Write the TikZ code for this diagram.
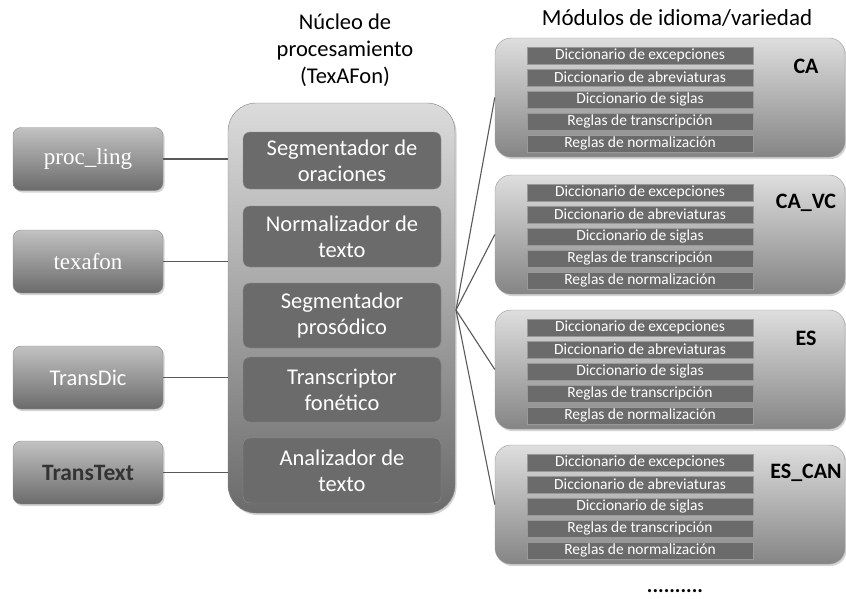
\documentclass[tikz,border=0pt]{standalone}
\usepackage{fontspec}
\setmainfont{Carlito}
\newfontfamily\cambriaish{Liberation Serif}
\usetikzlibrary{positioning, shadows}

\begin{document}
\begin{tikzpicture}[x=1pt, y=-1pt,
                    every node/.style={align=center, inner sep=0pt},
                    softshadow/.style={drop shadow={opacity=0.35, shadow xshift=1.5pt, shadow yshift=-2pt}},
                    toolbox/.style={draw=black!45, rounded corners=8pt, top color=black!24, bottom color=black!58,
                                    minimum width=150pt, minimum height=63pt, text=white, softshadow},
                    corebg/.style={draw=black!50, rounded corners=28pt, top color=black!14, bottom color=black!58,
                                   minimum width=227pt, minimum height=410pt, softshadow},
                    corebox/.style={draw=black!45, rounded corners=7pt, fill=black!58, minimum width=198pt,
                                    text=white, font=\fontsize{22.5}{26}\selectfont},
                    modbox/.style={draw=black!40, rounded corners=16pt, top color=black!13, bottom color=black!48,
                                   minimum width=350pt, minimum height=119pt, softshadow},
                    modbar/.style={draw=black!40, fill=black!58, minimum width=226pt, minimum height=17pt,
                                   text=white, font=\fontsize{15.5}{16}\selectfont},
                    modlabel/.style={font=\fontsize{22}{24}\selectfont\bfseries, text=black},
                    heading/.style={font=\fontsize{22.5}{27}\selectfont, text=black},
                    link/.style={draw=black!65, line width=1.1pt}]
    \useasboundingbox (0,0) rectangle (846,598);

    % Titles
    \node[heading] (coretitle) at (345,50) {Núcleo de\\procesamiento\\(TexAFon)};
    \node[heading, font=\fontsize{23}{27}\selectfont] (modtitle) at (677,18) {Módulos de idioma/variedad};

    % Processing core
    \node[corebg] (core) at (341.5,308) {};
    \node[corebox, minimum height=57pt] (segora) at (342,160.5) {Segmentador de\\oraciones};
    \node[corebox, minimum height=61pt] (normtxt) at (342,236.5) {Normalizador de\\texto};
    \node[corebox, minimum height=65pt] (segpros) at (342,315.5) {Segmentador\\prosódico};
    \node[corebox, minimum height=65pt] (transfon) at (342,389.5) {Transcriptor\\fonético};
    \node[corebox, minimum height=65pt] (analtxt) at (342,470.5) {Analizador de\\texto};

    % Tools on the left
    \node[toolbox, font=\cambriaish\fontsize{23}{24}\selectfont] (procling) at (88,159) {proc\_ling};
    \node[toolbox, font=\cambriaish\fontsize{23}{24}\selectfont] (texafon) at (88,261.5) {texafon};
    \node[toolbox, font=\fontsize{22.5}{24}\selectfont] (transdic) at (88,377.5) {TransDic};
    \node[toolbox, font=\fontsize{23.5}{24}\selectfont\bfseries, text=black!80] (transtext) at (88,472.5) {TransText};
    \foreach \tool in {procling, texafon, transdic, transtext}
        \draw[link] (\tool.east) -- (\tool.east -| core.west);

    % Language / variety modules
    \coordinate (hub) at (456,310);
    \foreach \name/\lab/\ytop in {ca/CA/38, cavc/CA\_VC/175, es/ES/310, escan/ES\_CAN/445} {
        \node[modbox] (\name) at (670,{\ytop+59.5}) {};
        \node[modlabel] (\name-lab) at (806,{\ytop+28}) {\lab};
        \foreach \txt [count=\i] in {Diccionario de excepciones, Diccionario de abreviaturas,
                                     Diccionario de siglas, Reglas de transcripción, Reglas de normalización}
            \node[modbar] (\name-\i) at (640,{\ytop+17.5+22*(\i-1)}) {\txt};
        \draw[link] (hub) -- (\name.west);
    }
    \node[font=\fontsize{21}{22}\selectfont\bfseries] (more) at (675,591) {..........};
\end{tikzpicture}
\end{document}
